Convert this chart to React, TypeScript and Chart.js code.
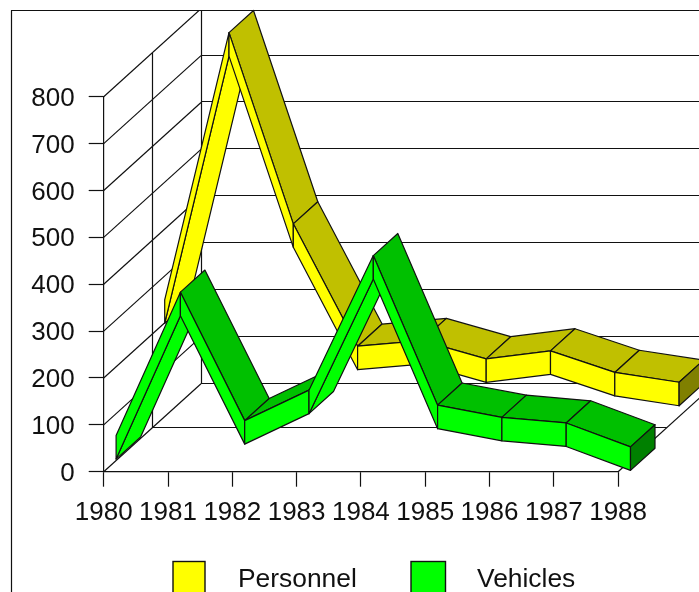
import React, { useEffect, useRef } from "react";
import { Chart, registerables } from "chart.js";

Chart.register(...registerables);

const years = ["1980", "1981", "1982", "1983", "1984", "1985", "1986", "1987", "1988"];
const personnel = [224, 794, 386, 125, 137, 98, 115, 69, 48];
const vehicles = [28, 334, 60, 125, 412, 93, 67, 55, 4];

const FONT = '"Liberation Sans", Arial, sans-serif';
const WALL_DX = 97.3;
const WALL_DY = 88;
const SLANT = WALL_DY / WALL_DX;
const RIBBON_DEPTH = 24.5;
const THICK = 23.5;
const STROKE = 1.2;

const looks = [
  { front: "#ffff00", top: "#c0c000", cap: "#808000", offset: 61 },
  { front: "#00ff00", top: "#00c000", cap: "#008000", offset: 12.4 },
];

type P = [number, number];

function poly(ctx: CanvasRenderingContext2D, pts: P[], fill: string) {
  ctx.beginPath();
  pts.forEach((p, i) => (i ? ctx.lineTo(p[0], p[1]) : ctx.moveTo(p[0], p[1])));
  ctx.closePath();
  ctx.fillStyle = fill;
  ctx.fill();
  ctx.stroke();
}

function line(ctx: CanvasRenderingContext2D, x1: number, y1: number, x2: number, y2: number) {
  ctx.beginPath();
  ctx.moveTo(x1, y1);
  ctx.lineTo(x2, y2);
  ctx.stroke();
}

const walls = {
  id: "walls",
  beforeDatasetsDraw(chart: any) {
    const { ctx, scales, width } = chart;
    const xs = scales.x;
    const ys = scales.y;
    const L = xs.left;
    const R = xs.right;
    const B = ys.getPixelForValue(0);
    ctx.save();
    ctx.strokeStyle = "#111";
    ctx.lineWidth = STROKE;
    // outer frame
    line(ctx, 11.5, 10.5, 11.5, chart.height);
    line(ctx, 11, 10.5, width, 10.5);
    ctx.beginPath();
    ctx.rect(0, 10, width, chart.height);
    ctx.clip();
    // value grid: side wall and back wall
    ys.ticks.forEach((t: any) => {
      const y = ys.getPixelForValue(t.value);
      line(ctx, L, y, L + WALL_DX, y - WALL_DY);
      const by = Math.round(y - WALL_DY) - 0.5;
      line(ctx, L + WALL_DX, by, width, by);
    });
    const T = ys.getPixelForValue(800);
    // uprights
    line(ctx, Math.round(L + WALL_DX) + 0.5, Math.round(T - WALL_DY), Math.round(L + WALL_DX) + 0.5, Math.round(B - WALL_DY));
    line(ctx, Math.round(L + WALL_DX / 2) + 0.5, Math.round(T - WALL_DY / 2), Math.round(L + WALL_DX / 2) + 0.5, Math.round(B - WALL_DY / 2));
    // floor
    const my = Math.round(B - WALL_DY / 2) - 0.5;
    line(ctx, L + WALL_DX / 2, my, R + WALL_DX / 2, my);
    line(ctx, R, B, R + WALL_DX, B - WALL_DY);
    ctx.restore();
  },
};

const ribbons = {
  id: "ribbons",
  afterDatasetsDraw(chart: any) {
    const { ctx, scales } = chart;
    ctx.save();
    ctx.strokeStyle = "#111";
    ctx.lineWidth = STROKE;
    ctx.lineJoin = "round";
    chart.data.datasets.forEach((ds: any, di: number) => {
      const look = looks[di];
      const lift = look.offset * SLANT;
      const pts = ds.data.map((v: number, i: number) => {
        const x = scales.x.getPixelForValue(i) + look.offset;
        const y = scales.y.getPixelForValue(v) - lift;
        return { x, top: y - THICK / 2, bot: y + THICK / 2 };
      });
      const bdx = RIBBON_DEPTH;
      const bdy = -RIBBON_DEPTH * SLANT;
      for (let i = 0; i < pts.length - 1; i++) {
        const a = pts[i];
        const b = pts[i + 1];
        const rise = (a.top - b.top) / (b.x - a.x);
        if (rise > -bdy / bdx) {
          poly(ctx, [[a.x, a.bot], [b.x, b.bot], [b.x + bdx, b.bot + bdy], [a.x + bdx, a.bot + bdy]], look.front);
        } else {
          poly(ctx, [[a.x, a.top], [b.x, b.top], [b.x + bdx, b.top + bdy], [a.x + bdx, a.top + bdy]], look.top);
        }
        poly(ctx, [[a.x, a.top], [b.x, b.top], [b.x, b.bot], [a.x, a.bot]], look.front);
      }
      const e = pts[pts.length - 1];
      poly(ctx, [[e.x, e.top], [e.x + bdx, e.top + bdy], [e.x + bdx, e.bot + bdy], [e.x, e.bot]], look.cap);
    });
    ctx.restore();
  },
};

const legendBoxes = {
  id: "legendBoxes",
  afterDraw(chart: any) {
    const { ctx } = chart;
    const spots = [
      { box: 173, w: 32, text: 238 },
      { box: 411, w: 34.5, text: 477 },
    ];
    ctx.save();
    ctx.strokeStyle = "#111";
    ctx.lineWidth = 1.4;
    ctx.font = `26.4px ${FONT}`;
    ctx.textBaseline = "alphabetic";
    ctx.textAlign = "left";
    chart.data.datasets.forEach((ds: any, i: number) => {
      const s = spots[i];
      ctx.fillStyle = ds.backgroundColor;
      ctx.fillRect(s.box, 561.5, s.w, 40);
      ctx.strokeRect(s.box, 561.5, s.w, 40);
      ctx.fillStyle = "#111";
      ctx.fillText(ds.label, s.text, 587);
    });
    ctx.restore();
  },
};

export default function App() {
  const ref = useRef<HTMLCanvasElement>(null);
  useEffect(() => {
    const chart = new Chart(ref.current as HTMLCanvasElement, {
      type: "line",
      data: {
        labels: years,
        datasets: [
          { label: "Personnel", data: personnel, backgroundColor: "#ffff00", borderColor: "transparent", showLine: false, pointRadius: 0 },
          { label: "Vehicles", data: vehicles, backgroundColor: "#00ff00", borderColor: "transparent", showLine: false, pointRadius: 0 },
        ],
      },
      options: {
        responsive: false,
        animation: false,
        layout: { autoPadding: false, padding: { top: 96.7, right: 80.9, left: 0, bottom: 0 } },
        plugins: { legend: { display: false }, title: { display: false }, tooltip: { enabled: false } },
        scales: {
          x: {
            type: "category",
            offset: false,
            afterFit(s: any) { s.height = 120.3; },
            border: { color: "#111", width: 1.2 },
            grid: { display: true, drawOnChartArea: false, color: "#111", tickLength: 15, tickWidth: 1.2 },
            ticks: { autoSkip: false, maxRotation: 0, minRotation: 0, padding: 11, color: "#111", font: { family: FONT, size: 26 } },
          },
          y: {
            type: "linear",
            min: 0,
            max: 800,
            afterFit(s: any) { s.width = 103.7; },
            border: { color: "#111", width: 1.2 },
            grid: { display: true, drawOnChartArea: false, color: "#111", tickLength: 15, tickWidth: 1.2 },
            ticks: { stepSize: 100, padding: 14, labelOffset: 2, color: "#111", font: { family: FONT, size: 26 } },
          },
        },
      } as any,
      plugins: [walls, ribbons, legendBoxes],
    });
    return () => chart.destroy();
  }, []);
  return (
    <div style={{ position: "absolute", left: 0, top: 0, width: 699, height: 592, overflow: "hidden", background: "#fff" }}>
      <canvas ref={ref} width={699} height={592} style={{ display: "block" }} />
    </div>
  );
}
